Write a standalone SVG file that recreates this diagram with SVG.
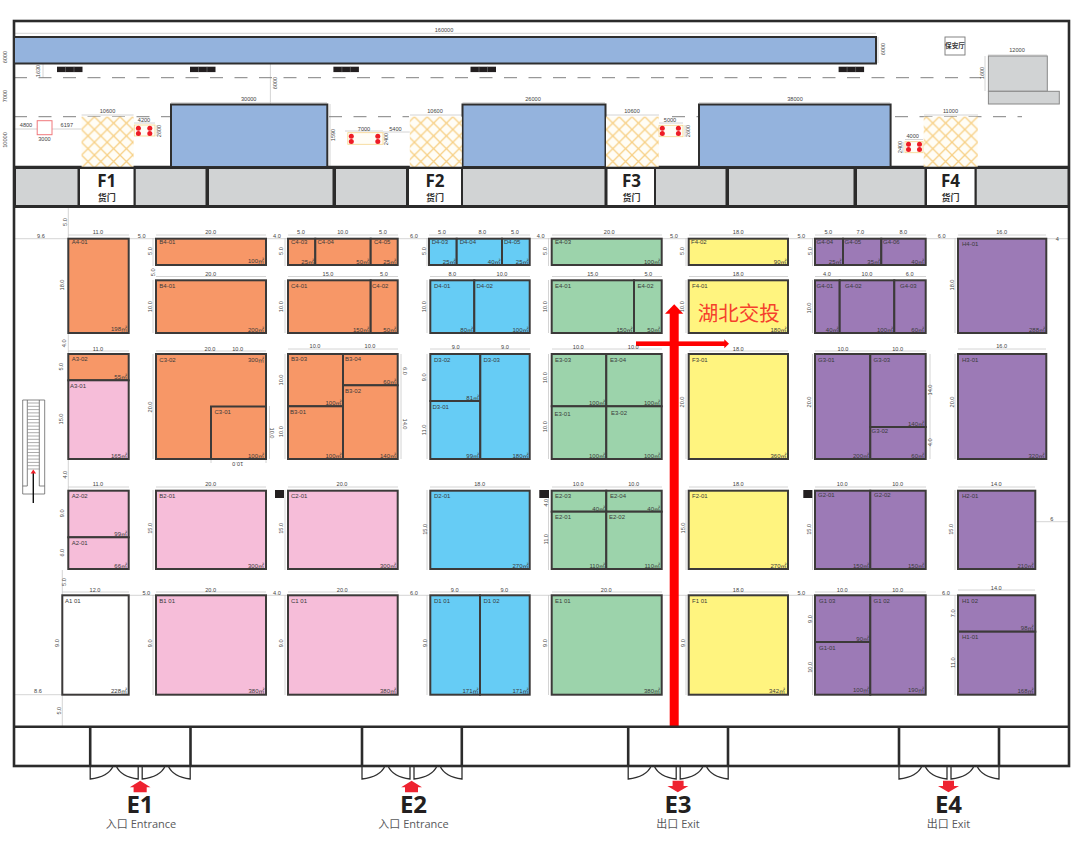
<svg xmlns="http://www.w3.org/2000/svg" width="1080" height="860" viewBox="0 0 1080 860">
<style>
text{font-family:"Liberation Sans","Noto Sans CJK SC",sans-serif;fill:#3a3a3a}
.b{stroke:#3c3a39;stroke-width:2}
.or{fill:#f79767}.pk{fill:#f6bdd9}.bl{fill:#66ccf5}.gr{fill:#9cd3ab}.ye{fill:#fff47f}.pu{fill:#9c7ab6}.wh{fill:#fff}
.l{font-size:6px}
.a{font-size:6px;text-anchor:end}
.d{font-size:5.6px;text-anchor:middle;fill:#444}
.r{font-size:5.6px;text-anchor:middle;dominant-baseline:central;fill:#444}
.g{fill:none;stroke:#c9c9c9;stroke-width:.8}
.w{fill:none;stroke:#2b2b2b;stroke-width:2.6}
.t{fill:none;stroke:#2f2f2f;stroke-width:1.3}
.dash{fill:none;stroke:#808080;stroke-width:1;stroke-dasharray:13 11.5}
.hb{fill:#94b3dd;stroke:#2f2f2f;stroke-width:2}
.cell{fill:#d1d3d4;stroke:#2b2b2b;stroke-width:2}
.cw{fill:#fff;stroke:#2b2b2b;stroke-width:2}
.h{fill:url(#hatch)}
.rd{fill:#ee2230}
.box{fill:#fffdf6;stroke:#f5d48c;stroke-width:.8}
.F{font-family:"Open Sans","Noto Sans CJK SC",sans-serif;font-size:17px;font-weight:700;text-anchor:middle;fill:#222}
.Fs{font-family:"Noto Sans CJK SC",sans-serif;font-size:9px;font-weight:700;text-anchor:middle;fill:#333}
.E{font-family:"Open Sans",sans-serif;font-size:24px;font-weight:700;text-anchor:middle;fill:#231f20}
.Es{font-family:"Open Sans","Noto Sans CJK SC",sans-serif;font-size:11px;text-anchor:middle;fill:#58595b}
.bk{fill:#231f20}
</style>
<defs>
<pattern id="hatch" width="12.8" height="12.8" patternUnits="userSpaceOnUse" x="81.6" y="116.7">
<rect width="12.8" height="12.8" fill="#fffdf6"/>
<path d="M0 0L12.8 12.8M12.8 0L0 12.8" stroke="#f7d086" stroke-width="1.3" fill="none"/>
</pattern>
<g id="bar"><rect width="25.5" height="5.4" class="bk"/><path d="M8.5 0V5.4M17 0V5.4" stroke="#888" stroke-width=".5"/></g>
<g id="dots"><circle cx="0" cy="0" r="2.5" fill="#ee1c25"/><circle cx="0" cy="5.3" r="2.5" fill="#ee1c25"/></g>
<path id="door" class="t" d="M0 766V779Q18 777 23 766M26 766Q31 777 48 779V766M52 766V779Q70 777 75 766M78 766Q83 777 100 779V766"/>
</defs>
<rect width="1080" height="860" fill="#fff"/>

<g id="connectors">
<path class="g" d="M14 33.3H876M14 129H37M52 129H81.6M43 64V78M270.4 64V104M171 102.7H327M462.5 102.7H605M699 102.7H890M81.6 115H133.6M410 115H462M606 115H659M924 115H978M134 123H155M157 125V136M659 123H683M685 125V137M905 139.5H923M903 142V153M383 132H410M330 104V167M345 131H383M985 56V91M988 55H1047M878 37V63"/>
<path class="g" d="M14 238.7H1069M62 595.3H958M14 694.7H62M1035 521.7H1069M68.3 207V570M62.3 570V727"/>
<path class="g" d="M68 235H129M156 235H266M288 235H398M429 235H530M552 235H662M689 235H788M815 235H926M958 235H1046M156 276.5H266M288 276.5H398M430 276.5H530M552 276.5H662M689 276.5H788M815 276.5H926M68 351H129M156 351H266M288 349H398M430 349H530M552 349H662M689 351H788M815 351H926M958 349H1046M68 487H129M156 487H266M288 487H398M430 487H530M552 487H662M689 487H788M815 487H926M958 487H1035M62 592H129M156 592H266M288 592H398M430 592H530M552 592H662M689 592H788M815 592H926M958 590H1035"/>
<path class="g" d="M153 238V266M153 280V333M153 354V459M153 490V570M153 595V695M285 238V266M285 280V333M285 354V459M285 490V570M285 595V695M427 238V266M427 280V333M427 354V459M427 490V570M427 595V695M548.5 238V266M548.5 280V333M548.5 354V459M548.5 490V570M548.5 595V695M686 238V266M686 280V333M686 354V459M686 490V570M686 595V695M812.5 238V266M812.5 280V333M812.5 354V459M812.5 490V570M812.5 595V695M955 238V333M955 354V459M955 490V570M955 595V695M269.5 406V459M211 459V463M266 459V463M401 354V459M930 354V459"/>
<path class="dash" d="M14 77.7H981"/>
<path class="dash" d="M14 116.7H170M329 116.7H409M672 116.7H698M895 116.7H1022"/>
<g id="red-route" fill="#f00">
<rect x="669.7" y="313" width="9" height="414"/>
<polygon points="674.2,304.3 683.3,313.7 665,313.7"/>
<rect x="636" y="341.4" width="89" height="4.6"/>
<polygon points="729,343.7 724.3,339.2 724.3,348.2"/>
</g>
</g>

<g id="hall-walls">
<path class="t" d="M14 21H1069"/>
<rect x="14" y="21" width="1055" height="745" class="w"/>
<path class="w" d="M14 726.7H1069M14 206.7H1069M14 167H1069"/>
<path class="w" d="M90.2 726.7V766M190.5 726.7V766M362 726.7V766M461.8 726.7V766M628.2 726.7V766M728 726.7V766M899 726.7V766M999 726.7V766"/>
</g>

<g id="top-hall"><rect x="14" y="37" width="862" height="26.5" class="hb"/></g>
<g id="bars"><use href="#bar" x="57" y="66.7"/><use href="#bar" x="190" y="66.7"/><use href="#bar" x="333.4" y="66.7"/><use href="#bar" x="470.5" y="66.7"/><use href="#bar" x="838.6" y="66.7"/></g>
<g id="hall-1"><rect x="171" y="104.5" width="156.3" height="62.5" class="hb"/></g>
<g id="hall-2"><rect x="462.5" y="104.5" width="143" height="62.5" class="hb"/></g>
<g id="hall-3"><rect x="699" y="104.5" width="191.6" height="62.5" class="hb"/></g>
<g id="hatch-1"><rect x="81.6" y="116.7" width="52" height="50" class="h"/></g>
<g id="hatch-2"><rect x="409.8" y="116.7" width="52" height="50" class="h"/></g>
<g id="hatch-3"><rect x="606" y="116.7" width="52.8" height="50" class="h"/></g>
<g id="hatch-4"><rect x="923.7" y="116.7" width="54" height="50" class="h"/></g>
<g id="pink-square"><rect x="37.2" y="120.7" width="14.8" height="14" fill="#fff" stroke="#f0787c" stroke-width="1"/></g>
<g id="dots-1"><rect x="134.3" y="125" width="20.7" height="11" class="box"/><use href="#dots" x="138.4" y="128.3"/><use href="#dots" x="149.8" y="128.3"/></g>
<g id="dots-2"><rect x="347.8" y="132.7" width="35.2" height="11.6" class="box"/><use href="#dots" x="351.3" y="136.3"/><use href="#dots" x="377.8" y="136.3"/></g>
<g id="dots-3"><rect x="659" y="125.3" width="24" height="11.4" class="box"/><use href="#dots" x="662.3" y="128.3"/><use href="#dots" x="678.4" y="128.3"/></g>
<g id="dots-4"><rect x="905" y="141.7" width="18" height="11" class="box"/><use href="#dots" x="908.5" y="144.3"/><use href="#dots" x="919.5" y="144.3"/></g>
<g id="security"><rect x="945" y="37" width="20" height="18" fill="#fff" stroke="#777" stroke-width=".9"/><text x="955" y="48" style="font-size:6.6px;font-weight:700;text-anchor:middle">保安厅</text></g>
<g id="building"><rect x="988.4" y="56" width="58.9" height="35.3" fill="#d1d3d4" stroke="#888"/><rect x="988.4" y="91.3" width="70.9" height="12.7" fill="#d1d3d4" stroke="#888"/></g>

<g id="band">
<rect x="15" y="168" width="63.5" height="38" class="cell"/><rect x="134.5" y="168" width="72" height="38" class="cell"/><rect x="208" y="168" width="125.5" height="38" class="cell"/><rect x="335" y="168" width="72" height="38" class="cell"/><rect x="462" y="168" width="143.5" height="38" class="cell"/><rect x="655" y="168" width="71.5" height="38" class="cell"/><rect x="728" y="168" width="126.5" height="38" class="cell"/><rect x="856" y="168" width="69.5" height="38" class="cell"/><rect x="975.5" y="168" width="93" height="38" class="cell"/>
</g>
<g id="F1"><rect x="79" y="168" width="55.5" height="38" class="cw"/><text x="106.8" y="186.5" class="F">F1</text><text x="106.8" y="200.5" class="Fs">货门</text></g>
<g id="F2"><rect x="408" y="168" width="54" height="38" class="cw"/><text x="435" y="186.5" class="F">F2</text><text x="435" y="200.5" class="Fs">货门</text></g>
<g id="F3"><rect x="606.5" y="168" width="48.5" height="38" class="cw"/><text x="631.5" y="186.5" class="F">F3</text><text x="631.5" y="200.5" class="Fs">货门</text></g>
<g id="F4"><rect x="926" y="168" width="49.5" height="38" class="cw"/><text x="950.5" y="186.5" class="F">F4</text><text x="950.5" y="200.5" class="Fs">货门</text></g>

<g id="booths" class="b">
<g id="A4-01" class="or"><rect x="68.3" y="238.7" width="60.4" height="94.3"/></g>
<g id="B4-01-top" class="or"><rect x="156" y="238.7" width="110" height="26.3"/></g>
<g id="C4-03" class="or"><rect x="288" y="238.7" width="27.3" height="26.3"/></g>
<g id="C4-04" class="or"><rect x="315.3" y="238.7" width="55.4" height="26.3"/></g>
<g id="C4-05" class="or"><rect x="370.7" y="238.7" width="27" height="26.3"/></g>
<g id="D4-03" class="bl"><rect x="429" y="238.7" width="27.7" height="26.3"/></g>
<g id="D4-04" class="bl"><rect x="456.7" y="238.7" width="45.3" height="26.3"/></g>
<g id="D4-05" class="bl"><rect x="502" y="238.7" width="27.7" height="26.3"/></g>
<g id="E4-03" class="gr"><rect x="551.7" y="238.7" width="110" height="26.3"/></g>
<g id="F4-02" class="ye"><rect x="688.7" y="238.7" width="99.3" height="26.3"/></g>
<g id="G4-04" class="pu"><rect x="815" y="238.7" width="28" height="26.3"/></g>
<g id="G4-05" class="pu"><rect x="843" y="238.7" width="38.3" height="26.3"/></g>
<g id="G4-06" class="pu"><rect x="881.3" y="238.7" width="44.4" height="26.3"/></g>
<g id="H4-01" class="pu"><rect x="958" y="238.7" width="88.3" height="94.3"/></g>
<g id="B4-01" class="or"><rect x="156" y="280.3" width="110" height="52.7"/></g>
<g id="C4-01" class="or"><rect x="288" y="280.3" width="82.7" height="52.7"/></g>
<g id="C4-02" class="or"><rect x="370.7" y="280.3" width="27" height="52.7"/></g>
<g id="D4-01" class="bl"><rect x="430.3" y="280.3" width="44" height="52.7"/></g>
<g id="D4-02" class="bl"><rect x="474.3" y="280.3" width="55.4" height="52.7"/></g>
<g id="E4-01" class="gr"><rect x="551.7" y="280.3" width="82.3" height="52.7"/></g>
<g id="E4-02" class="gr"><rect x="634" y="280.3" width="27.7" height="52.7"/></g>
<g id="F4-01" class="ye"><rect x="688.7" y="280.3" width="99.3" height="52.7"/></g>
<g id="G4-01" class="pu"><rect x="815" y="280.3" width="24.7" height="52.7"/></g>
<g id="G4-02" class="pu"><rect x="839.7" y="280.3" width="54.6" height="52.7"/></g>
<g id="G4-03" class="pu"><rect x="894.3" y="280.3" width="31.4" height="52.7"/></g>
<g id="A3-02" class="or"><rect x="68.3" y="354" width="60.4" height="26.3"/></g>
<g id="A3-01" class="pk"><rect x="68.3" y="380.3" width="60.4" height="78.7"/></g>
<g id="C3-02" class="or"><rect x="156" y="354" width="110" height="105"/></g>
<g id="C3-01" class="or"><rect x="211" y="406.5" width="55" height="52.5"/></g>
<g id="B3-03" class="or"><rect x="288" y="354" width="55" height="52.3"/></g>
<g id="B3-01" class="or"><rect x="288" y="406.3" width="55" height="52.7"/></g>
<g id="B3-04" class="or"><rect x="343" y="354" width="54.7" height="31.3"/></g>
<g id="B3-02" class="or"><rect x="343" y="385.3" width="54.7" height="73.7"/></g>
<g id="D3-02" class="bl"><rect x="430.3" y="354" width="50" height="47"/></g>
<g id="D3-01" class="bl"><rect x="430.3" y="401" width="50" height="58"/></g>
<g id="D3-03" class="bl"><rect x="480.3" y="354" width="49.4" height="105"/></g>
<g id="E3-03" class="gr"><rect x="551.7" y="354" width="54.6" height="52.3"/></g>
<g id="E3-04" class="gr"><rect x="606.3" y="354" width="55.4" height="52.3"/></g>
<g id="E3-01" class="gr"><rect x="551.7" y="406.3" width="54.6" height="52.7"/></g>
<g id="E3-02" class="gr"><rect x="606.3" y="406.3" width="55.4" height="52.7"/></g>
<g id="F3-01" class="ye"><rect x="688.7" y="354" width="99.3" height="105"/></g>
<g id="G3-01" class="pu"><rect x="815" y="354" width="55.3" height="105"/></g>
<g id="G3-03" class="pu"><rect x="870.3" y="354" width="55.4" height="73"/></g>
<g id="G3-02" class="pu"><rect x="870.3" y="427" width="55.4" height="32"/></g>
<g id="H3-01" class="pu"><rect x="958" y="354" width="88.3" height="105"/></g>
<g id="A2-02" class="pk"><rect x="68.3" y="490.7" width="60.4" height="46.6"/></g>
<g id="A2-01" class="pk"><rect x="68.3" y="537.3" width="60.4" height="31.7"/></g>
<g id="B2-01" class="pk"><rect x="156" y="490.7" width="110" height="78.3"/></g>
<g id="C2-01" class="pk"><rect x="288" y="490.7" width="109.7" height="78.3"/></g>
<g id="D2-01" class="bl"><rect x="430.3" y="490.7" width="99.4" height="78.3"/></g>
<g id="E2-03" class="gr"><rect x="551.7" y="490.7" width="54.6" height="21"/></g>
<g id="E2-04" class="gr"><rect x="606.3" y="490.7" width="55.4" height="21"/></g>
<g id="E2-01" class="gr"><rect x="551.7" y="511.7" width="54.6" height="57.3"/></g>
<g id="E2-02" class="gr"><rect x="606.3" y="511.7" width="55.4" height="57.3"/></g>
<g id="F2-01" class="ye"><rect x="688.7" y="490.7" width="99.3" height="78.3"/></g>
<g id="G2-01" class="pu"><rect x="815" y="490.7" width="55.3" height="78.3"/></g>
<g id="G2-02" class="pu"><rect x="870.3" y="490.7" width="55.4" height="78.3"/></g>
<g id="H2-01" class="pu"><rect x="958" y="490.7" width="77.3" height="78.3"/></g>
<g id="A1-01" class="wh"><rect x="62.3" y="595.3" width="66.4" height="99.4"/></g>
<g id="B1-01" class="pk"><rect x="156" y="595.3" width="110" height="99.4"/></g>
<g id="C1-01" class="pk"><rect x="288" y="595.3" width="109.7" height="99.4"/></g>
<g id="D1-01" class="bl"><rect x="430.3" y="595.3" width="49.7" height="99.4"/></g>
<g id="D1-02" class="bl"><rect x="480" y="595.3" width="49.7" height="99.4"/></g>
<g id="E1-01" class="gr"><rect x="551.7" y="595.3" width="110" height="99.4"/></g>
<g id="F1-01" class="ye"><rect x="688.7" y="595.3" width="99.3" height="99.4"/></g>
<g id="G1-03" class="pu"><rect x="815" y="595.3" width="55.3" height="46.7"/></g>
<g id="G1-01" class="pu"><rect x="815" y="642" width="55.3" height="52.7"/></g>
<g id="G1-02" class="pu"><rect x="870.3" y="595.3" width="55.4" height="99.4"/></g>
<g id="H1-02" class="pu"><rect x="958" y="595.3" width="77.3" height="36.4"/></g>
<g id="H1-01" class="pu"><rect x="958" y="631.7" width="77.3" height="63"/></g>
</g>

<g id="booth-labels">
<text class="l" x="71.7" y="244.3">A4-01</text><text class="a" x="127" y="331">198㎡</text>
<text class="l" x="159.3" y="244.3">B4-01</text><text class="a" x="264" y="263">100㎡</text>
<text class="l" x="291" y="244.3">C4-03</text><text class="a" x="314" y="263.5">25㎡</text>
<text class="l" x="317.5" y="244.3">C4-04</text><text class="a" x="369" y="263.5">50㎡</text>
<text class="l" x="374" y="244.3">C4-05</text><text class="a" x="396" y="263.5">25㎡</text>
<text class="l" x="431.7" y="244.3">D4-03</text><text class="a" x="455.5" y="263.5">25㎡</text>
<text class="l" x="459.7" y="244.3">D4-04</text><text class="a" x="500.5" y="263.5">40㎡</text>
<text class="l" x="504" y="244.3">D4-05</text><text class="a" x="528.5" y="263.5">25㎡</text>
<text class="l" x="555" y="244.3">E4-03</text><text class="a" x="660" y="263.5">100㎡</text>
<text class="l" x="691" y="244.3">F4-02</text><text class="a" x="786.5" y="263.5">90㎡</text>
<text class="l" x="816.5" y="244.3">G4-04</text><text class="a" x="841.5" y="263.5">25㎡</text>
<text class="l" x="844.5" y="244.3">G4-05</text><text class="a" x="880" y="263.5">35㎡</text>
<text class="l" x="883" y="244.3">G4-06</text><text class="a" x="924" y="263.5">40㎡</text>
<text class="l" x="962" y="245.7">H4-01</text><text class="a" x="1045" y="331.5">288㎡</text>
<text class="l" x="159.3" y="288.3">B4-01</text><text class="a" x="264" y="331.5">200㎡</text>
<text class="l" x="291" y="288.3">C4-01</text><text class="a" x="369" y="331.5">150㎡</text>
<text class="l" x="372" y="288.3">C4-02</text><text class="a" x="396" y="331.5">50㎡</text>
<text class="l" x="434" y="288.3">D4-01</text><text class="a" x="473" y="331.5">80㎡</text>
<text class="l" x="476.5" y="288.3">D4-02</text><text class="a" x="528.5" y="331.5">100㎡</text>
<text class="l" x="555" y="288.3">E4-01</text><text class="a" x="632.5" y="331.5">150㎡</text>
<text class="l" x="637.5" y="288.3">E4-02</text><text class="a" x="660" y="331.5">50㎡</text>
<text class="l" x="692" y="288.3">F4-01</text><text class="a" x="786.5" y="331.5">180㎡</text>
<text class="l" x="816.5" y="288.3">G4-01</text><text class="a" x="838.5" y="331.5">40㎡</text>
<text class="l" x="845" y="288.3">G4-02</text><text class="a" x="893" y="331.5">100㎡</text>
<text class="l" x="900" y="288.3">G4-03</text><text class="a" x="924" y="331.5">60㎡</text>
<text class="l" x="71.7" y="360.5">A3-02</text><text class="a" x="127" y="379">55㎡</text>
<text class="l" x="70" y="388">A3-01</text><text class="a" x="127" y="457.5">165㎡</text>
<text class="l" x="159.3" y="362">C3-02</text><text class="a" x="264" y="362">300㎡</text>
<text class="l" x="214.5" y="414">C3-01</text><text class="a" x="264" y="457.5">100㎡</text>
<text class="l" x="291" y="360.5">B3-03</text><text class="a" x="341.5" y="404.5">100㎡</text>
<text class="l" x="290" y="414">B3-01</text><text class="a" x="341.5" y="457.5">100㎡</text>
<text class="l" x="345" y="360.5">B3-04</text><text class="a" x="396" y="383.5">60㎡</text>
<text class="l" x="345" y="393">B3-02</text><text class="a" x="396" y="457.5">140㎡</text>
<text class="l" x="434" y="362">D3-02</text><text class="a" x="479" y="399.5">81㎡</text>
<text class="l" x="432.5" y="408.5">D3-01</text><text class="a" x="479" y="457.5">99㎡</text>
<text class="l" x="483.5" y="362">D3-03</text><text class="a" x="528.5" y="457.5">180㎡</text>
<text class="l" x="555" y="362">E3-03</text><text class="a" x="605" y="404.5">100㎡</text>
<text class="l" x="610" y="362">E3-04</text><text class="a" x="660" y="404.5">100㎡</text>
<text class="l" x="554.5" y="416">E3-01</text><text class="a" x="605" y="457.5">100㎡</text>
<text class="l" x="611" y="415">E3-02</text><text class="a" x="660" y="457.5">100㎡</text>
<text class="l" x="692" y="362">F3-01</text><text class="a" x="786.5" y="457.5">360㎡</text>
<text class="l" x="818" y="362">G3-01</text><text class="a" x="869" y="457.5">200㎡</text>
<text class="l" x="873.5" y="362">G3-03</text><text class="a" x="924" y="425.5">140㎡</text>
<text class="l" x="871.5" y="432.5">G3-02</text><text class="a" x="924" y="457.5">60㎡</text>
<text class="l" x="962" y="362">H3-01</text><text class="a" x="1044.5" y="457.5">320㎡</text>
<text class="l" x="71.7" y="498">A2-02</text><text class="a" x="127" y="536">99㎡</text>
<text class="l" x="71.7" y="545">A2-01</text><text class="a" x="127" y="567.5">66㎡</text>
<text class="l" x="159.3" y="498">B2-01</text><text class="a" x="264" y="567.5">300㎡</text>
<text class="l" x="291" y="498">C2-01</text><text class="a" x="396" y="567.5">300㎡</text>
<text class="l" x="434" y="498">D2-01</text><text class="a" x="528.5" y="567.5">270㎡</text>
<text class="l" x="555" y="497.5">E2-03</text><text class="a" x="605" y="510.5">40㎡</text>
<text class="l" x="610" y="497.5">E2-04</text><text class="a" x="660" y="510.5">40㎡</text>
<text class="l" x="555" y="518.5">E2-01</text><text class="a" x="605" y="567.5">110㎡</text>
<text class="l" x="609" y="518.5">E2-02</text><text class="a" x="660" y="567.5">110㎡</text>
<text class="l" x="692" y="498">F2-01</text><text class="a" x="786.5" y="567.5">270㎡</text>
<text class="l" x="818" y="497">G2-01</text><text class="a" x="869" y="567.5">150㎡</text>
<text class="l" x="874" y="497">G2-02</text><text class="a" x="924" y="567.5">150㎡</text>
<text class="l" x="962" y="498">H2-01</text><text class="a" x="1033.5" y="567.5">210㎡</text>
<text class="l" x="65" y="603">A1 01</text><text class="a" x="127" y="693">228㎡</text>
<text class="l" x="159.3" y="603">B1 01</text><text class="a" x="264.5" y="693">380㎡</text>
<text class="l" x="291" y="603">C1 01</text><text class="a" x="396" y="693">380㎡</text>
<text class="l" x="434" y="603">D1 01</text><text class="a" x="478.5" y="693">171㎡</text>
<text class="l" x="483.5" y="603">D1 02</text><text class="a" x="528.5" y="693">171㎡</text>
<text class="l" x="555" y="603">E1 01</text><text class="a" x="660" y="693">380㎡</text>
<text class="l" x="692" y="603">F1 01</text><text class="a" x="785" y="693">342㎡</text>
<text class="l" x="819" y="603">G1 03</text><text class="a" x="869" y="640.5">90㎡</text>
<text class="l" x="819" y="650">G1-01</text><text class="a" x="869" y="692">100㎡</text>
<text class="l" x="873.5" y="603">G1 02</text><text class="a" x="924" y="692">190㎡</text>
<text class="l" x="962" y="603">H1 02</text><text class="a" x="1033.5" y="630">98㎡</text>
<text class="l" x="962" y="639">H1-01</text><text class="a" x="1033.5" y="693">168㎡</text>
</g>

<g id="markers"><rect x="275" y="490" width="9" height="8" class="bk"/><rect x="539.3" y="490" width="9.7" height="8" class="bk"/><rect x="803.3" y="490" width="9" height="8" class="bk"/></g>

<g id="stairs">
<path d="M22.7 494V400H44.7V494ZM27.3 400V486H22.7M39.3 400V486H44.7" fill="#fff" stroke="#666" stroke-width=".8"/>
<path d="M27.3 403H39.3M27.3 406.3H39.3M27.3 409.6H39.3M27.3 412.9H39.3M27.3 416.2H39.3M27.3 419.5H39.3M27.3 422.8H39.3M27.3 426.1H39.3M27.3 429.4H39.3M27.3 432.7H39.3M27.3 436H39.3M27.3 439.3H39.3M27.3 442.6H39.3M27.3 445.9H39.3M27.3 449.2H39.3M27.3 452.5H39.3M27.3 455.8H39.3M27.3 459.1H39.3M27.3 462.4H39.3M27.3 465.7H39.3M27.3 469H39.3" fill="none" stroke="#888" stroke-width=".7"/>
<path d="M33.3 472V503" stroke="#111" stroke-width="1.4"/>
<polygon points="33.3,469.5 36,473.5 30.6,473.5" fill="#ee1c25"/>
</g>

<g id="dimensions">
<text class="d" x="444" y="32">160000</text>
<text class="d" x="248.7" y="101">30000</text><text class="d" x="533" y="101">26000</text><text class="d" x="795" y="101">38000</text>
<text class="d" x="107.5" y="113.3">10600</text><text class="d" x="435" y="113.3">10600</text><text class="d" x="632" y="113.3">10600</text><text class="d" x="950.5" y="113.3">11000</text>
<text class="d" x="26" y="127">4800</text><text class="d" x="66.8" y="127">6197</text><text class="d" x="44.4" y="141">3000</text><text class="d" x="144" y="121.7">4200</text><text class="d" x="364" y="130.7">7000</text><text class="d" x="395.4" y="130.7">5400</text><text class="d" x="670" y="121.7">5000</text><text class="d" x="912.7" y="138.3">4000</text><text class="d" x="1017" y="52.3">12000</text>
<text class="r" transform="translate(5 57) rotate(-90)">6000</text><text class="r" transform="translate(5 96) rotate(-90)">7000</text><text class="r" transform="translate(5 140) rotate(-90)">10000</text><text class="r" transform="translate(38 71) rotate(-90)">1630</text><text class="r" transform="translate(274.5 83) rotate(-90)">6000</text><text class="r" transform="translate(159 131) rotate(-90)">2600</text><text class="r" transform="translate(333 135) rotate(-90)">1590</text><text class="r" transform="translate(385.7 139) rotate(-90)">2400</text><text class="r" transform="translate(688 131) rotate(-90)">2600</text><text class="r" transform="translate(900 147) rotate(-90)">2400</text><text class="r" transform="translate(981.7 73) rotate(-90)">1600</text><text class="r" transform="translate(882.6 49) rotate(-90)">6000</text>

<text class="d" x="98" y="234">11.0</text><text class="d" x="141.7" y="238">5.0</text><text class="d" x="210.7" y="234">20.0</text><text class="d" x="277" y="238">4.0</text><text class="d" x="301" y="234">5.0</text><text class="d" x="342.7" y="234">10.0</text><text class="d" x="383" y="234">5.0</text><text class="d" x="414" y="238">6.0</text><text class="d" x="41" y="238">9.6</text><text class="d" x="442" y="234">5.0</text><text class="d" x="482.3" y="234">8.0</text><text class="d" x="515" y="234">5.0</text><text class="d" x="540.7" y="238">4.0</text><text class="d" x="609.3" y="234">20.0</text><text class="d" x="674" y="238">5.0</text><text class="d" x="738.3" y="234">18.0</text><text class="d" x="801.3" y="238">5.0</text><text class="d" x="828.3" y="234">5.0</text><text class="d" x="860.3" y="234">7.0</text><text class="d" x="903.3" y="234">8.0</text><text class="d" x="941.7" y="238">6.0</text><text class="d" x="1001.7" y="234">16.0</text><text class="d" x="1057.3" y="241">4</text>

<text class="d" x="210.7" y="276">20.0</text><text class="d" x="328" y="276">15.0</text><text class="d" x="384" y="276">5.0</text><text class="d" x="452.3" y="276">8.0</text><text class="d" x="502" y="276">10.0</text><text class="d" x="592.7" y="276">15.0</text><text class="d" x="648.3" y="276">5.0</text><text class="d" x="738.3" y="276">18.0</text><text class="d" x="827" y="276">4.0</text><text class="d" x="867" y="276">10.0</text><text class="d" x="909.7" y="276">6.0</text>

<text class="d" x="98" y="350.5">11.0</text><text class="d" x="210" y="350.5">20.0</text><text class="d" x="237.7" y="350.5">10.0</text><text class="d" x="315" y="348">10.0</text><text class="d" x="370" y="348">10.0</text><text class="d" x="455.7" y="349">9.0</text><text class="d" x="505" y="349">9.0</text><text class="d" x="578.3" y="349">10.0</text><text class="d" x="633.3" y="349">10.0</text><text class="d" x="738.3" y="350.5">18.0</text><text class="d" x="843" y="350.5">10.0</text><text class="d" x="897.7" y="350.5">10.0</text><text class="d" x="1001.7" y="348">16.0</text>
<text class="r" transform="translate(237.7 463.5) rotate(180)">10.0</text><text class="r" transform="translate(272 433) rotate(90)">10.0</text><text class="r" transform="translate(405 371) rotate(90)">6.0</text><text class="r" transform="translate(405 424) rotate(90)">14.0</text>

<text class="d" x="98" y="486">11.0</text><text class="d" x="210.7" y="486">20.0</text><text class="d" x="342" y="486">20.0</text><text class="d" x="479.7" y="486">18.0</text><text class="d" x="578.3" y="486">10.0</text><text class="d" x="633.7" y="486">10.0</text><text class="d" x="738.3" y="486">18.0</text><text class="d" x="842.3" y="486">10.0</text><text class="d" x="897.7" y="486">10.0</text><text class="d" x="996.3" y="486">14.0</text>
<text class="d" x="1051.7" y="521">6</text>

<text class="d" x="95" y="591.5">12.0</text><text class="d" x="146.3" y="595">5.0</text><text class="d" x="210.7" y="591.5">20.0</text><text class="d" x="277" y="595">4.0</text><text class="d" x="342.3" y="591.5">20.0</text><text class="d" x="414" y="595">6.0</text><text class="d" x="454.7" y="591.5">9.0</text><text class="d" x="504.3" y="591.5">9.0</text><text class="d" x="606.3" y="591.5">20.0</text><text class="d" x="738.3" y="591.5">18.0</text><text class="d" x="801.3" y="595">5.0</text><text class="d" x="842.3" y="591.5">10.0</text><text class="d" x="897.7" y="591.5">10.0</text><text class="d" x="946" y="595">6.0</text><text class="d" x="996.3" y="590">14.0</text>
<text class="d" x="38" y="692.7">8.6</text>

<text class="r" transform="translate(65 222) rotate(-90)">5.0</text><text class="r" transform="translate(62.3 285) rotate(-90)">18.0</text><text class="r" transform="translate(64.3 343.3) rotate(-90)">4.0</text><text class="r" transform="translate(60.7 366.7) rotate(-90)">5.0</text><text class="r" transform="translate(60.7 419) rotate(-90)">15.0</text><text class="r" transform="translate(65 474.7) rotate(-90)">4.0</text><text class="r" transform="translate(62 513.3) rotate(-90)">9.0</text><text class="r" transform="translate(62 552.7) rotate(-90)">6.0</text><text class="r" transform="translate(64 582) rotate(-90)">5.0</text><text class="r" transform="translate(56.7 643) rotate(-90)">9.0</text><text class="r" transform="translate(59 710.7) rotate(-90)">5.0</text>
<text class="r" transform="translate(150 251) rotate(-90)">5.0</text><text class="r" transform="translate(153 272.3) rotate(-90)">5.0</text><text class="r" transform="translate(149.5 306.7) rotate(-90)">10.0</text><text class="r" transform="translate(149.5 407) rotate(-90)">20.0</text><text class="r" transform="translate(149.5 528.3) rotate(-90)">15.0</text><text class="r" transform="translate(149.5 643.3) rotate(-90)">9.0</text>
<text class="r" transform="translate(281 251) rotate(-90)">5.0</text><text class="r" transform="translate(281 306.7) rotate(-90)">10.0</text><text class="r" transform="translate(281 380) rotate(-90)">10.0</text><text class="r" transform="translate(281 431.7) rotate(-90)">10.0</text><text class="r" transform="translate(281 528.3) rotate(-90)">15.0</text><text class="r" transform="translate(281 643.3) rotate(-90)">9.0</text>
<text class="r" transform="translate(424.3 251) rotate(-90)">5.0</text><text class="r" transform="translate(424.3 306.7) rotate(-90)">10.0</text><text class="r" transform="translate(424.3 377.3) rotate(-90)">9.0</text><text class="r" transform="translate(424.3 430) rotate(-90)">11.0</text><text class="r" transform="translate(425 529.3) rotate(-90)">15.0</text><text class="r" transform="translate(425 643) rotate(-90)">9.0</text>
<text class="r" transform="translate(545 251) rotate(-90)">5.0</text><text class="r" transform="translate(545 306.7) rotate(-90)">10.0</text><text class="r" transform="translate(545 377.7) rotate(-90)">10.0</text><text class="r" transform="translate(545 426.7) rotate(-90)">10.0</text><text class="r" transform="translate(545.7 502.7) rotate(-90)">4.0</text><text class="r" transform="translate(545.7 539.3) rotate(-90)">11.0</text><text class="r" transform="translate(545 643) rotate(-90)">9.0</text>
<text class="r" transform="translate(682 251) rotate(-90)">5.0</text><text class="r" transform="translate(682 306.7) rotate(-90)">10.0</text><text class="r" transform="translate(682 402) rotate(-90)">20.0</text><text class="r" transform="translate(683 528) rotate(-90)">15.0</text><text class="r" transform="translate(683 643) rotate(-90)">9.0</text>
<text class="r" transform="translate(809.7 251) rotate(-90)">5.0</text><text class="r" transform="translate(809 308) rotate(-90)">10.0</text><text class="r" transform="translate(809 402) rotate(-90)">20.0</text><text class="r" transform="translate(809 529.3) rotate(-90)">15.0</text><text class="r" transform="translate(809.7 619) rotate(-90)">9.0</text><text class="r" transform="translate(809.7 667.3) rotate(-90)">10.0</text><text class="r" transform="translate(930 390) rotate(-90)">14.0</text><text class="r" transform="translate(930 442.3) rotate(-90)">4.0</text>
<text class="r" transform="translate(952.3 285) rotate(-90)">18.0</text><text class="r" transform="translate(952.3 402) rotate(-90)">20.0</text><text class="r" transform="translate(950.7 529.3) rotate(-90)">15.0</text><text class="r" transform="translate(953.3 613.3) rotate(-90)">7.0</text><text class="r" transform="translate(953.3 662.7) rotate(-90)">11.0</text>
</g>

<g id="hubei-label"><text x="738.7" y="321" style="font-family:'Noto Sans CJK SC',sans-serif;font-size:20.5px;text-anchor:middle;fill:#f5402c">湖北交投</text></g>

<g id="E1"><use href="#door" x="90.2"/><polygon class="rd" points="140.2,780.7 150.5,787.3 146.7,787.3 146.7,792.3 133.6,792.3 133.6,787.3 129.8,787.3"/><text x="140" y="813" class="E">E1</text><text x="141" y="828" class="Es">入口 Entrance</text></g>
<g id="E2"><use href="#door" x="362"/><polygon class="rd" points="411.6,780.7 422,787.3 418,787.3 418,792.3 405,792.3 405,787.3 401.2,787.3"/><text x="413.5" y="813" class="E">E2</text><text x="413.5" y="828" class="Es">入口 Entrance</text></g>
<g id="E3"><use href="#door" x="628.2"/><polygon class="rd" points="672.6,780.7 683.6,780.7 683.6,786 688.4,786 677.8,792.3 667.4,786 672.6,786"/><text x="678" y="813" class="E">E3</text><text x="678" y="828" class="Es">出口 Exit</text></g>
<g id="E4"><use href="#door" x="899"/><polygon class="rd" points="943,780.7 954,780.7 954,786 959,786 948.5,792.3 938,786 943,786"/><text x="948.5" y="813" class="E">E4</text><text x="948.5" y="828" class="Es">出口 Exit</text></g>
</svg>
